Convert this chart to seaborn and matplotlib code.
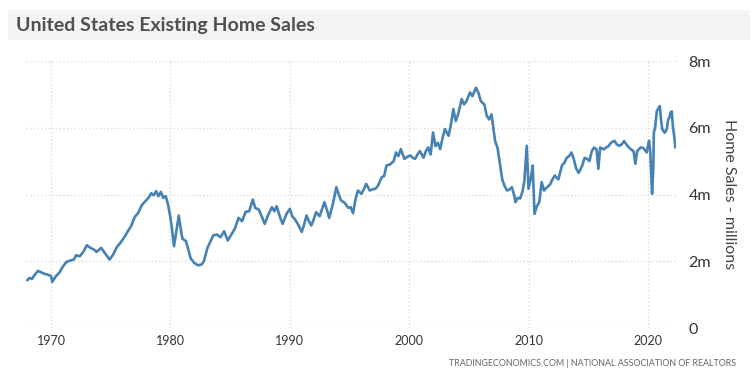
import pandas as pd
import matplotlib.pyplot as plt
import seaborn as sns
from matplotlib.patches import Rectangle

# Existing home sales (millions, SAAR)
years = [
    1968.0, 1968.2, 1968.4, 1968.6, 1968.9, 1969.1, 1969.4, 1969.7, 1970.0, 1970.1,
    1970.4, 1970.7, 1971.0, 1971.3, 1971.6, 1971.9, 1972.1, 1972.4, 1972.7, 1973.0,
    1973.3, 1973.6, 1973.8, 1974.2, 1974.5, 1974.9, 1975.2, 1975.5, 1975.8, 1976.1,
    1976.4, 1976.7, 1977.0, 1977.3, 1977.6, 1977.9, 1978.2, 1978.4, 1978.6, 1978.8,
    1979.0, 1979.2, 1979.4, 1979.6, 1979.8, 1980.0, 1980.15, 1980.3, 1980.5, 1980.7,
    1980.85, 1981.0, 1981.3, 1981.5, 1981.7, 1982.0, 1982.3, 1982.6, 1982.8, 1983.1,
    1983.3, 1983.6, 1983.9, 1984.2, 1984.5, 1984.8, 1985.1, 1985.4, 1985.7, 1986.0,
    1986.3, 1986.6, 1986.9, 1987.1, 1987.4, 1987.7, 1987.9, 1988.2, 1988.5, 1988.7,
    1988.9, 1989.2, 1989.4, 1989.7, 1990.0, 1990.2, 1990.4, 1990.7, 1991.0, 1991.2,
    1991.4, 1991.6, 1991.8, 1992.0, 1992.2, 1992.5, 1992.9, 1993.1, 1993.3, 1993.6,
    1993.9, 1994.1, 1994.3, 1994.6, 1994.9, 1995.1, 1995.3, 1995.5, 1995.7, 1996.0,
    1996.2, 1996.4, 1996.7, 1996.9, 1997.2, 1997.4, 1997.7, 1997.9, 1998.1, 1998.4,
    1998.7, 1998.9, 1999.1, 1999.3, 1999.6, 1999.8, 2000.1, 2000.3, 2000.5, 2000.7,
    2000.9, 2001.2, 2001.4, 2001.6, 2001.8, 2002.0, 2002.2, 2002.4, 2002.6, 2002.8,
    2003.0, 2003.3, 2003.5, 2003.7, 2003.9, 2004.1, 2004.4, 2004.6, 2004.8, 2005.1,
    2005.3, 2005.6, 2005.8, 2006.0, 2006.3, 2006.5, 2006.7, 2006.9, 2007.2, 2007.4,
    2007.6, 2007.8, 2008.0, 2008.2, 2008.4, 2008.6, 2008.8, 2008.9, 2009.1, 2009.3,
    2009.5, 2009.65, 2009.85, 2010.0, 2010.2, 2010.35, 2010.5, 2010.7, 2010.9, 2011.1,
    2011.3, 2011.5, 2011.8, 2012.0, 2012.2, 2012.5, 2012.8, 2013.0, 2013.2, 2013.4,
    2013.6, 2013.8, 2014.0, 2014.2, 2014.5, 2014.7, 2014.9, 2015.1, 2015.3, 2015.5,
    2015.7, 2015.85, 2016.0, 2016.3, 2016.5, 2016.7, 2016.9, 2017.2, 2017.4, 2017.6,
    2017.8, 2018.0, 2018.2, 2018.4, 2018.6, 2018.8, 2018.95, 2019.1, 2019.4, 2019.6,
    2019.9, 2020.0, 2020.1, 2020.2, 2020.35, 2020.45, 2020.5, 2020.6, 2020.75, 2020.9,
    2021.0, 2021.1, 2021.2, 2021.4, 2021.5, 2021.6, 2021.7, 2021.8, 2021.9, 2022.0,
    2022.1, 2022.2, 2022.3,
]
sales = [
    1.43, 1.50, 1.47, 1.58, 1.71, 1.68, 1.63, 1.60, 1.56, 1.38,
    1.55, 1.66, 1.85, 1.98, 2.02, 2.05, 2.18, 2.15, 2.28, 2.48,
    2.40, 2.35, 2.28, 2.40, 2.25, 2.05, 2.20, 2.42, 2.55, 2.70,
    2.88, 3.05, 3.32, 3.45, 3.68, 3.80, 3.92, 4.04, 3.98, 4.10,
    3.95, 4.08, 3.90, 3.95, 3.70, 3.30, 2.90, 2.45, 2.90, 3.37,
    3.00, 2.68, 2.60, 2.35, 2.08, 1.95, 1.88, 1.90, 2.00, 2.40,
    2.55, 2.78, 2.80, 2.72, 2.90, 2.62, 2.80, 2.98, 3.30, 3.20,
    3.48, 3.50, 3.85, 3.60, 3.55, 3.30, 3.12, 3.40, 3.62, 3.50,
    3.65, 3.30, 3.12, 3.40, 3.57, 3.35, 3.27, 3.10, 2.88, 3.10,
    3.37, 3.20, 3.07, 3.25, 3.47, 3.35, 3.77, 3.55, 3.30, 3.70,
    4.22, 4.00, 3.82, 3.75, 3.60, 3.62, 3.44, 3.85, 4.12, 4.02,
    4.15, 4.32, 4.12, 4.15, 4.18, 4.27, 4.52, 4.55, 4.87, 4.90,
    5.00, 5.26, 5.15, 5.36, 5.07, 5.12, 5.17, 5.10, 5.07, 5.20,
    5.30, 5.10, 5.30, 5.41, 5.20, 5.86, 5.45, 5.55, 5.36, 5.70,
    5.96, 5.76, 6.10, 6.56, 6.20, 6.40, 6.86, 6.70, 6.80, 7.06,
    6.95, 7.20, 7.05, 6.80, 6.70, 6.36, 6.25, 6.40, 5.60, 5.40,
    4.92, 4.45, 4.25, 4.12, 4.15, 4.22, 3.98, 3.77, 3.90, 3.88,
    4.10, 4.40, 5.46, 4.17, 4.50, 4.87, 3.42, 3.65, 3.77, 4.37,
    4.12, 4.20, 4.30, 4.45, 4.57, 4.45, 4.87, 4.95, 5.10, 5.15,
    5.26, 5.05, 4.77, 4.65, 4.87, 5.10, 5.07, 5.00, 5.30, 5.41,
    5.35, 4.77, 5.41, 5.35, 5.41, 5.45, 5.55, 5.61, 5.50, 5.46,
    5.50, 5.60, 5.50, 5.41, 5.35, 5.30, 4.92, 5.30, 5.41, 5.40,
    5.26, 5.45, 5.61, 5.27, 4.02, 4.75, 5.86, 6.00, 6.50, 6.60,
    6.65, 6.24, 5.96, 5.85, 5.90, 5.99, 6.25, 6.30, 6.46, 6.49,
    6.02, 5.77, 5.41,
]
decade_ticks = [1970, 1980, 1990, 2000, 2010, 2020]
y_ticks = [0, 2, 4, 6, 8]
y_tick_labels = ["0", "2m", "4m", "6m", "8m"]

df = pd.DataFrame({"year": years, "sales": sales})

sns.set_theme(style="white")
plt.rcParams['font.family'] = ['Lato', 'DejaVu Sans']

fig = plt.figure(figsize=(7.56, 3.75), dpi=100)
ax = fig.add_axes([0.0344, 0.1253, 0.8597, 0.7120])

sns.lineplot(data=df, x="year", y="sales", ax=ax, color="#4682b4", linewidth=1.9)

ax.set_xlim(1967.9, 2022.35)
ax.set_ylim(0, 8)
ax.set_xticks(decade_ticks)
ax.set_xticklabels([str(t) for t in decade_ticks], fontsize=9, color="#333333")
ax.set_yticks(y_ticks)
ax.set_yticklabels(y_tick_labels, fontsize=11.5, color="#333333")
ax.yaxis.tick_right()
ax.yaxis.set_label_position("right")
ax.tick_params(axis="x", length=0, pad=5)
ax.tick_params(axis="y", length=0, pad=9)
ax.grid(True, linestyle=":", color="#dcdcdc", linewidth=1.0)
for s in ax.spines.values():
    s.set_visible(False)
ax.set_xlabel("")
ax.set_ylabel("Home Sales - millions", rotation=270, labelpad=18,
              fontsize=11.5, color="#444444")

# title banner
fig.patches.append(Rectangle((8 / 756, 1 - 40 / 375), 742 / 756, 30 / 375,
                             transform=fig.transFigure, facecolor="#f3f3f3",
                             edgecolor="none", zorder=0))
fig.text(16 / 756, 1 - 25 / 375, "United States Existing Home Sales",
         fontsize=14, fontweight="bold", color="#505050", va="center", ha="left")
fig.text(736 / 756, 1 - 364 / 375,
         "TRADINGECONOMICS.COM | NATIONAL ASSOCIATION OF REALTORS",
         fontsize=6.4, color="#666666", va="center", ha="right")

fig.savefig("out.png", dpi=100)
